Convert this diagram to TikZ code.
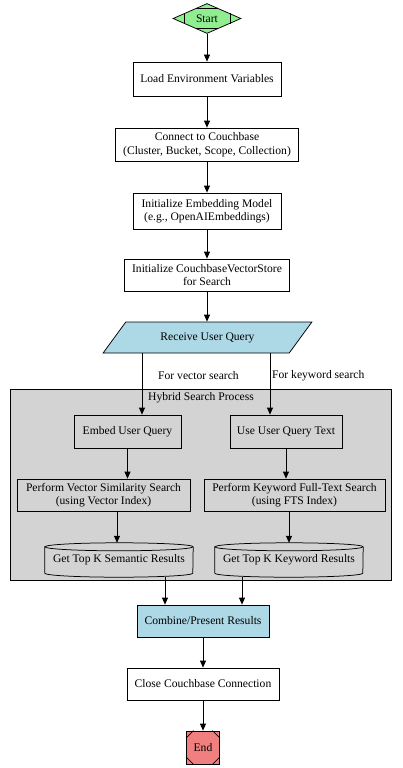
\documentclass[tikz,border=0pt]{standalone}
\usepackage{fontspec}
\setmainfont{Liberation Serif}
\usetikzlibrary{shapes.geometric,arrows.meta,calc}
\definecolor{stgreen}{HTML}{90EE90}
\definecolor{qblue}{HTML}{ADD8E6}
\definecolor{clgray}{HTML}{D3D3D3}
\definecolor{endred}{HTML}{F08080}
\begin{document}
\begin{tikzpicture}[x=1pt,y=-1pt,
  every node/.style={font=\fontsize{11.6}{13.5}\selectfont, inner sep=0pt, align=center},
  box/.style={draw, line width=0.75pt},
  cyl/.style={draw=none},
  arr/.style={-{Triangle[length=7pt,width=6pt]}, line width=0.75pt},
  cutline/.style={line width=0.75pt}
]
\useasboundingbox (0,0) rectangle (403,768);

% cluster
\node[box, fill=clgray, minimum width=381, minimum height=191] (cl) at (200.5,484.5) {};
\node (cllab) at (201,398) {Hybrid Search Process};

% main nodes
\node[diamond, box, fill=stgreen, minimum width=68, minimum height=30] (start) at (207,18.5) {Start};
\node[box, minimum width=148, minimum height=34] (load) at (207,79) {Load Environment Variables};
\node[box, minimum width=183, minimum height=33] (conn) at (207,144.5) {Connect to Couchbase\\(Cluster, Bucket, Scope, Collection)};
\node[box, minimum width=148, minimum height=36] (emb) at (207,211) {Initialize Embedding Model\\(e.g., OpenAIEmbeddings)};
\node[box, minimum width=165, minimum height=32] (vs) at (207,275) {Initialize CouchbaseVectorStore\\for Search};
\node[trapezium, trapezium left angle=38, trapezium right angle=142, trapezium stretches=true,
      box, fill=qblue, minimum width=209, minimum height=31] (q) at (207.5,337.5) {Receive User Query};

\node[box, minimum width=107, minimum height=33] (embq) at (127.5,431.5) {Embed User Query};
\node[box, minimum width=112, minimum height=33] (useq) at (286,431.5) {Use User Query Text};
\node[box, minimum width=173, minimum height=32] (pvs) at (103.5,495) {Perform Vector Similarity Search\\(using Vector Index)};
\node[box, minimum width=181, minimum height=32] (pks) at (294.5,495) {Perform Keyword Full-Text Search\\(using FTS Index)};
\node[cyl, minimum width=148, minimum height=34] (sem) at (119,560) {Get Top K Semantic Results};
\node[cyl, minimum width=148, minimum height=34] (key) at (289,560) {Get Top K Keyword Results};

\node[box, fill=qblue, minimum width=132, minimum height=32] (comb) at (203,621) {Combine/Present Results};
\node[box, minimum width=152, minimum height=32] (close) at (203,684) {Close Couchbase Connection};
\node[box, fill=endred, minimum width=33, minimum height=33] (end) at (203,747.5) {End};

% cylinder outlines
\foreach \n in {sem,key}{
  \draw[line width=0.75pt] ([yshift=-4pt]\n.north west) -- ([yshift=4pt]\n.south west)
     arc[start angle=180,end angle=360,x radius=74pt,y radius=4pt]
     -- ([yshift=-4pt]\n.north east)
     arc[start angle=0,end angle=180,x radius=74pt,y radius=4pt] -- cycle;
  \draw[line width=0.75pt] ([yshift=-4pt]\n.north west)
     arc[start angle=180,end angle=360,x radius=74pt,y radius=4pt];
}

% Mdiamond cuts
\draw[cutline] ($(start.west)!0.33!(start.north)$) -- ($(start.west)!0.33!(start.south)$);
\draw[cutline] ($(start.east)!0.33!(start.north)$) -- ($(start.east)!0.33!(start.south)$);
\draw[cutline] ($(start.north)!0.33!(start.west)$) -- ($(start.north)!0.33!(start.east)$);
\draw[cutline] ($(start.south)!0.33!(start.west)$) -- ($(start.south)!0.33!(start.east)$);

% Msquare cuts
\draw[cutline] ($(end.north west)!0.22!(end.north east)$) -- ($(end.north west)!0.22!(end.south west)$);
\draw[cutline] ($(end.north east)!0.22!(end.north west)$) -- ($(end.north east)!0.22!(end.south east)$);
\draw[cutline] ($(end.south west)!0.22!(end.south east)$) -- ($(end.south west)!0.22!(end.north west)$);
\draw[cutline] ($(end.south east)!0.22!(end.south west)$) -- ($(end.south east)!0.22!(end.north east)$);

% guide coordinates
\coordinate (g142) at (142,0);
\coordinate (g270) at (270,0);
\coordinate (g117) at (117,0);
\coordinate (g289) at (289,0);
\coordinate (g165) at (165,0);
\coordinate (g242) at (242,0);
\coordinate (g207) at (207,0);

% edges
\draw[arr] (start.south) -- (start.south |- load.north);
\draw[arr] (load.south) -- (load.south |- conn.north);
\draw[arr] (conn.south -| g207) -- (emb.north -| g207);
\draw[arr] (emb.south -| g207) -- (vs.north -| g207);
\draw[arr] (vs.south -| g207) -- (q.north -| g207);
\draw[arr] (q.south -| g142) -- (embq.north -| g142);
\draw[arr] (q.south -| g270) -- (useq.north -| g270);
\draw[arr] (embq.south) -- (embq.south |- pvs.north);
\draw[arr] (useq.south) -- (useq.south |- pks.north);
\draw[arr] (pvs.south -| g117) -- (sem.north -| g117);
\draw[arr] (pks.south -| g289) -- (key.north -| g289);
\draw[arr] (sem.south -| g165) -- (comb.north -| g165);
\draw[arr] (key.south -| g242) -- (comb.north -| g242);
\draw[arr] (comb.south) -- (close.north);
\draw[arr] (close.south) -- (end.north);

% edge labels
\node[anchor=west] (lv) at (158,376) {For vector search};
\node[anchor=west] (lk) at (272,376) {For keyword search};
\end{tikzpicture}
\end{document}
